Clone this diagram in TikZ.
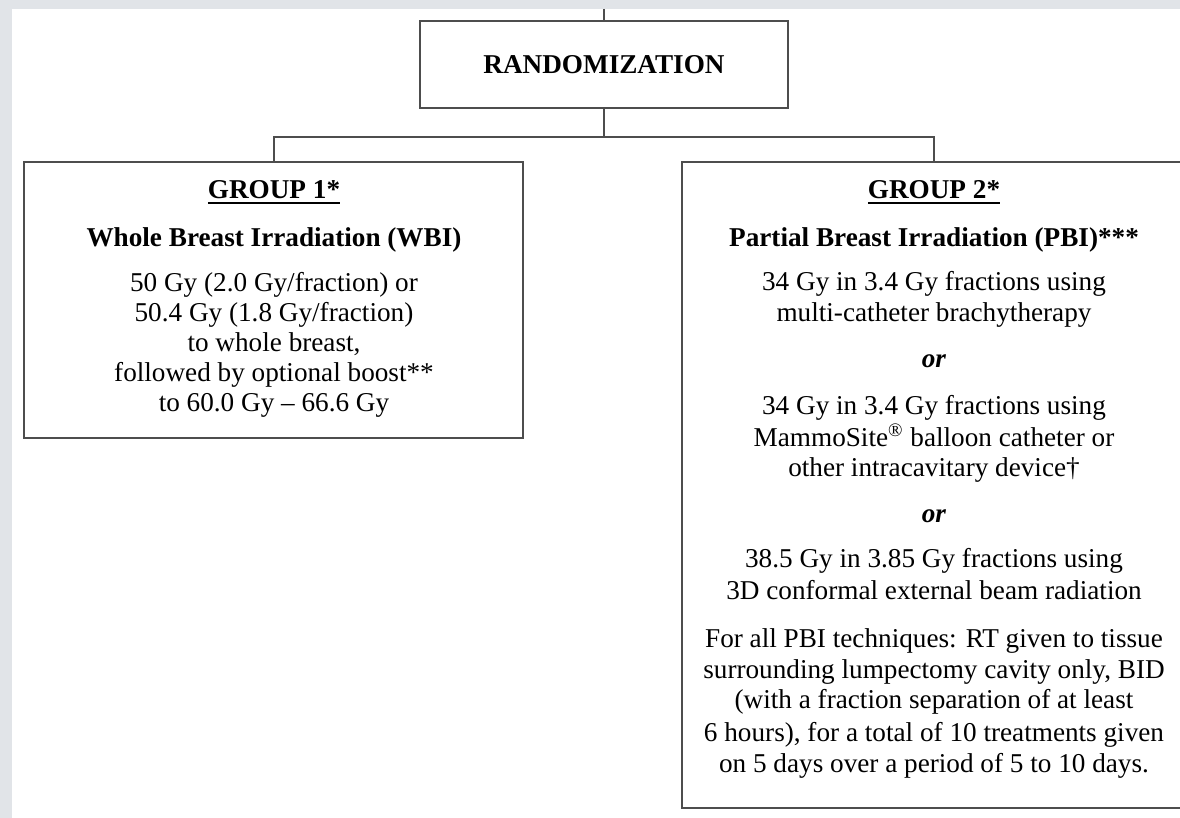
\documentclass[tikz,border=0pt]{standalone}
\usepackage{fontspec}
\setmainfont{Liberation Serif}
\usetikzlibrary{positioning}
\definecolor{bggray}{HTML}{E1E4E8}
\definecolor{linegray}{HTML}{4D4D4D}
\newcommand{\grpline}[1]{\setbox0\hbox{#1}\rlap{\rule[-2.4pt]{\wd0}{0.9pt}}\box0}

\begin{document}
\begin{tikzpicture}[x=0.5pt,y=-0.5pt,draw=linegray,line width=1pt]
    \tikzstyle{box}=[draw=linegray, line width=1pt, rectangle, inner sep=0pt]
    \tikzstyle{txt}=[anchor=base, inner sep=0pt, font=\fontsize{13.6}{15}\selectfont]
    \tikzstyle{head}=[anchor=base, inner sep=0pt, font=\fontsize{13.6}{15}\selectfont\bfseries]
    \tikzstyle{randbox}=[box, minimum width=184pt, minimum height=43.5pt, font=\fontsize{13.6}{15}\selectfont\bfseries]

    \fill[bggray] (0,0) rectangle (1180,818);
    \fill[white] (12,9) rectangle (1180,818);
    \useasboundingbox (0,0) rectangle (1180,818);
    \clip (0,0) rectangle (1180,818);

    \coordinate (in) at (604,9);
    \node[randbox] (rand) at (604,64.5) {RANDOMIZATION};
    \node[box, minimum width=249.5pt, minimum height=138pt] (g1) at (273.5,300) {};
    \node[box, minimum width=252pt, minimum height=323pt] (g2) at (934,485) {};

    \draw (in) -- (rand);
    \draw (rand.south) -- ++(0,28) -| (g1.north);
    \draw (rand.south) -- ++(0,28) -| (g2.north);

%   group 1
    \node[head] (g1-h) at (274,199) {\grpline{GROUP 1*}};
    \node[head] (g1-n) at (274,247) {Whole Breast Irradiation (WBI)};
    \foreach \t [count=\i] in {50 Gy (2.0 Gy/fraction) or, 50.4 Gy (1.8 Gy/fraction), {to whole breast,}, followed by optional boost**, to 60.0 Gy -- 66.6 Gy}{
        \pgfmathsetmacro\y{262+\i*30}
        \node[txt] (g1-\i) at (274,\y) {\t};
    }

%   group 2
    \node[head] (g2-h) at (934,199) {\grpline{GROUP 2*}};
    \node[head] (g2-n) at (934,247) {Partial Breast Irradiation (PBI)***};
    \foreach \y/\t [count=\i] in {291/{34 Gy in 3.4 Gy fractions using},
                                  322/{multi-catheter brachytherapy},
                                  368/{\textbf{\textit{or}}},
                                  415/{34 Gy in 3.4 Gy fractions using},
                                  447/{MammoSite\textsuperscript{\textregistered} balloon catheter or},
                                  477/{other intracavitary device\textdagger},
                                  523/{\textbf{\textit{or}}},
                                  568/{38.5 Gy in 3.85 Gy fractions using},
                                  600/{3D conformal external beam radiation},
                                  647/{For all PBI techniques: RT given to tissue},
                                  678/{surrounding lumpectomy cavity only, BID},
                                  709/{(with a fraction separation of at least},
                                  741/{6 hours), for a total of 10 treatments given},
                                  772/{on 5 days over a period of 5 to 10 days.}}{
        \node[txt] (g2-\i) at (934,\y) {\t};
    }
\end{tikzpicture}
\end{document}
